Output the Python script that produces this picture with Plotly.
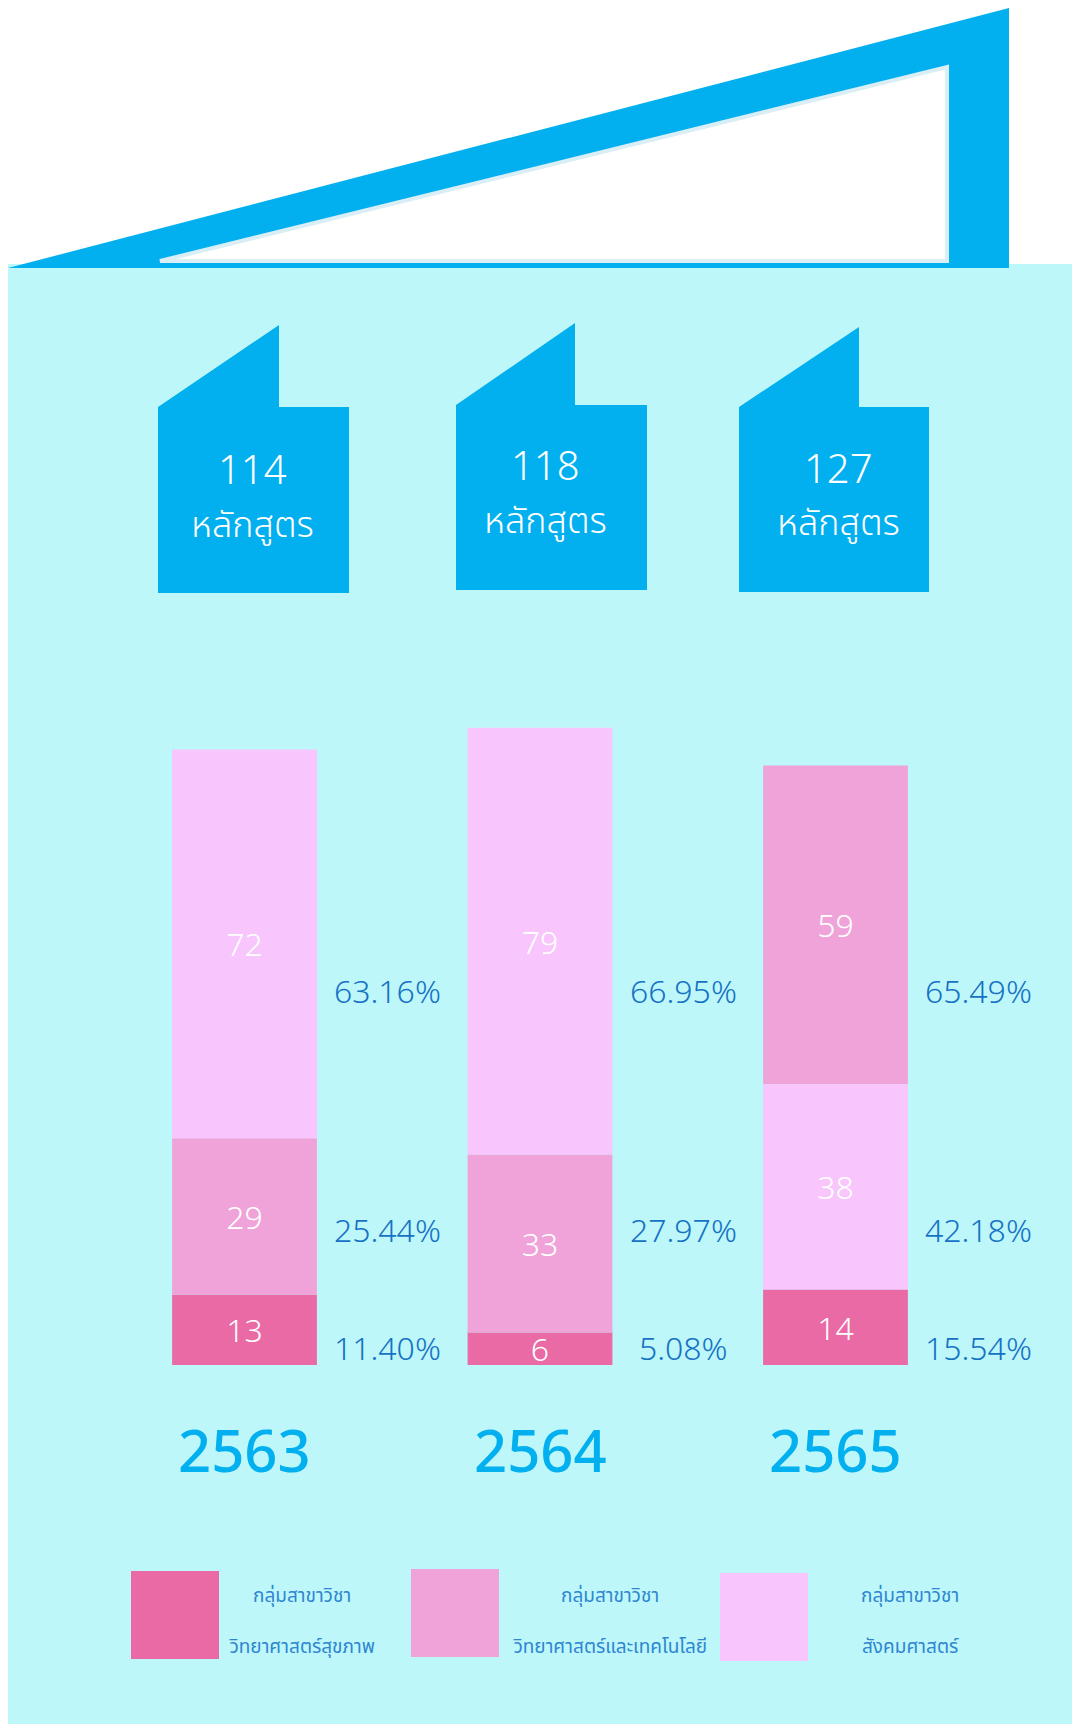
import plotly.graph_objects as go

# ---------------- data ----------------
years = ["2563", "2564", "2565"]
totals = [114, 118, 127]
group_prefix = "กลุ่มสาขาวิชา"
group_names = ["วิทยาศาสตร์สุขภาพ", "วิทยาศาสตร์และเทคโนโลยี", "สังคมศาสตร์"]
health = [13, 6, 14]
scitech = [29, 33, 59]
social = [72, 79, 38]
# stacking order (bottom -> top) of the groups for each year
stack_order = [[0, 1, 2], [0, 1, 2], [0, 2, 1]]
pct_bottom = ["11.40%", "5.08%", "15.54%"]
pct_middle = ["25.44%", "27.97%", "42.18%"]
pct_top = ["63.16%", "66.95%", "65.49%"]
unit_label = "หลักสูตร"

# ---------------- style / layout ----------------
W, H = 1072, 1724
colors = ["#E96AA5", "#EFA3D9", "#F9C5FD"]
BG = "#BDF7FA"
BLUE = "#02B0EF"
PCT_COLOR = "#1672C4"
LEG_COLOR = "#2F86D0"
THAI = "Noto Sans Thai, Noto Sans, sans-serif"
NUM = "Noto Sans, sans-serif"


def X(p):
    return p / W


def Y(p):
    return 1 - p / H


def path(pts):
    return "M " + " L ".join(f"{X(a):.5f},{Y(b):.5f}" for a, b in pts) + " Z"


series = [health, scitech, social]
fig = go.Figure()
for g in range(3):
    bases = []
    for i in range(len(years)):
        order = stack_order[i]
        pos = order.index(g)
        bases.append(sum(series[order[k]][i] for k in range(pos)))
    fig.add_trace(go.Bar(
        x=years, y=series[g], base=bases, width=0.49,
        name=group_prefix + " " + group_names[g],
        marker=dict(color=colors[g], line=dict(width=0)),
        text=[str(v) for v in series[g]], textposition="inside",
        insidetextanchor="middle", textangle=0,
        textfont=dict(color="white", size=32, family=NUM, weight=300),
        hoverinfo="skip", showlegend=False,
    ))

shapes = []
# background panel
shapes.append(dict(type="rect", xref="paper", yref="paper", x0=X(8), x1=X(1072),
                   y0=Y(1724), y1=Y(264), fillcolor=BG, line=dict(width=0), layer="below"))
# roof
shapes.append(dict(type="path", xref="paper", yref="paper",
                   path=path([(8, 268), (1009, 8), (1009, 268)]),
                   fillcolor=BLUE, line=dict(width=0), layer="below"))
shapes.append(dict(type="path", xref="paper", yref="paper",
                   path=path([(160, 261), (947, 67), (947, 261)]),
                   fillcolor="white", line=dict(width=4, color="#DAEEF5"), layer="below"))
# flags
flags = [(158, 279, 349, 325, 407, 593), (456, 575, 647, 323, 405, 590), (739, 859, 929, 327, 407, 592)]
for (l, pk, r, top, shoulder, bot) in flags:
    shapes.append(dict(type="path", xref="paper", yref="paper",
                       path=path([(l, shoulder), (pk, top), (pk, shoulder), (r, shoulder), (r, bot), (l, bot)]),
                       fillcolor=BLUE, line=dict(width=0), layer="below"))
# legend squares
leg_sq = [(131, 1571), (411, 1569), (720, 1573)]
for g, (x0, y0) in enumerate(leg_sq):
    shapes.append(dict(type="rect", xref="paper", yref="paper", x0=X(x0), x1=X(x0 + 88),
                       y0=Y(y0 + 88), y1=Y(y0), fillcolor=colors[g], line=dict(width=0), layer="below"))

ann = []


def A(**kw):
    kw.setdefault("showarrow", False)
    kw.setdefault("xanchor", "center")
    kw.setdefault("yanchor", "middle")
    ann.append(kw)


# flag texts
flag_text_x = [252, 545, 838]
flag_num_y = [469, 465, 467]
for i in range(3):
    A(xref="paper", yref="paper", x=X(flag_text_x[i]), y=Y(flag_num_y[i]),
      text=str(totals[i]), font=dict(color="white", size=40, family=NUM, weight=300))
    A(xref="paper", yref="paper", x=X(flag_text_x[i]), y=Y(flag_num_y[i] + 57),
      text=unit_label, font=dict(color="white", size=36, family=THAI, weight=300))
# percentage rows
rows = [(pct_top, 990), (pct_middle, 1229), (pct_bottom, 1347)]
for labels, ypx in rows:
    for i in range(len(years)):
        A(xref="x", yref="paper", x=i, xshift=143, y=Y(ypx), text=labels[i],
          font=dict(color=PCT_COLOR, size=32, family=NUM, weight=300))
# years
for i, yr in enumerate(years):
    A(xref="x", yref="paper", x=i, y=Y(1449), text=yr,
      font=dict(color=BLUE, size=58, family=NUM, weight=500))
# legend text
leg_tx = [302, 610, 910]
for g in range(3):
    A(xref="paper", yref="paper", x=X(leg_tx[g]), y=Y(1596), text=group_prefix,
      font=dict(color=LEG_COLOR, size=19, family=THAI))
    A(xref="paper", yref="paper", x=X(leg_tx[g]), y=Y(1647), text=group_names[g],
      font=dict(color=LEG_COLOR, size=19, family=THAI))

scale = 5.4  # px per unit
bottom_px = 1365
top_px = bottom_px - 150 * scale

fig.update_layout(
    width=W, height=H, margin=dict(l=0, r=0, t=0, b=0),
    paper_bgcolor="white", plot_bgcolor="rgba(0,0,0,0)",
    barmode="overlay", showlegend=False,
    uniformtext=dict(minsize=32, mode="show"),
    xaxis=dict(domain=[96.75 / W, 983.25 / W], range=[-0.5, 2.5], type="category",
               visible=False, fixedrange=True),
    yaxis=dict(domain=[Y(bottom_px), Y(top_px)], range=[0, 150], visible=False, fixedrange=True),
    shapes=shapes, annotations=ann,
)

fig.write_html("out.html", config={"displayModeBar": False},
               post_script="document.body.style.margin='0';document.body.style.overflow='hidden';")
